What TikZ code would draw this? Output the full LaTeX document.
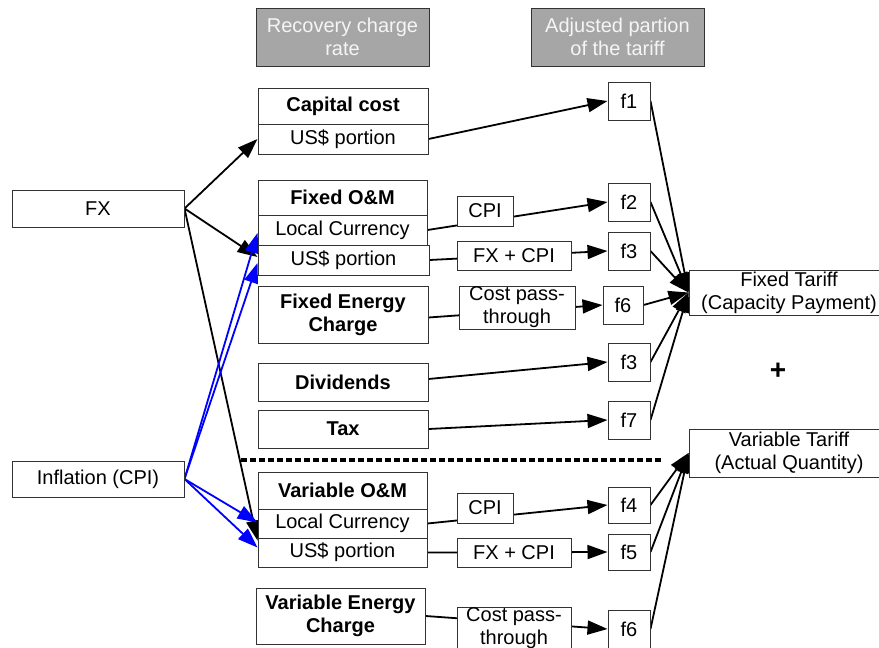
\documentclass[tikz,border=0pt]{standalone}
\usepackage{fontspec}
\setmainfont{Liberation Sans}
\usetikzlibrary{arrows.meta,backgrounds}
\begin{document}
\begin{tikzpicture}[x=1pt,y=-1pt,
  box/.style={draw=black!80, line width=1pt, fill=white, inner sep=0pt, align=center,
    font=\fontsize{20}{23}\selectfont, anchor=center},
  bbox/.style={box, font=\fontsize{20}{23}\selectfont\bfseries},
  hdr/.style={box, fill=black!35, text=black!4},
  conn/.style={line width=1.8pt, -{Triangle[length=20pt,width=14pt]}},
  bconn/.style={conn, draw=blue},
  sep/.style={line width=4.5pt, dash pattern=on 6pt off 3pt},
]
\useasboundingbox (0,0) rectangle (879,648);
\clip (0,0) rectangle (879,648);

% headers
\node[hdr, minimum width=173pt, minimum height=58pt] (h1) at (342.5,37) {Recovery charge\\rate};
\node[hdr, minimum width=173pt, minimum height=58pt] (h2) at (617.5,37) {Adjusted partion\\of the tariff};

% sources
\node[box, minimum width=172pt, minimum height=37pt] (fx) at (98,208.5) {FX};
\node[box, minimum width=172pt, minimum height=36pt] (infl) at (98,479) {Inflation (CPI)};

% recovery charge column
\node[bbox, minimum width=170pt, minimum height=36pt] (cap) at (343,106) {Capital cost};
\node[box, minimum width=170pt, minimum height=30pt] (capus) at (343,139) {US\$ portion};
\node[bbox, minimum width=169pt, minimum height=35pt] (fom) at (342.5,197.5) {Fixed O\&M};
\node[box, minimum width=169pt, minimum height=30pt] (fomlc) at (342.5,230) {Local Currency};
\node[box, minimum width=171pt, minimum height=30pt] (fomus) at (343.5,260) {US\$ portion};
\node[bbox, minimum width=170pt, minimum height=57pt] (fec) at (343,314.5) {Fixed Energy\\Charge};
\node[bbox, minimum width=170pt, minimum height=38pt] (div) at (343,382) {Dividends};
\node[bbox, minimum width=170pt, minimum height=38pt] (tax) at (343,429) {Tax};
\node[bbox, minimum width=169pt, minimum height=37pt] (vom) at (342.5,490.5) {Variable O\&M};
\node[box, minimum width=169pt, minimum height=29pt] (vomlc) at (342.5,523.5) {Local Currency};
\node[box, minimum width=169pt, minimum height=29pt] (vomus) at (342.5,552.5) {US\$ portion};
\node[bbox, minimum width=169pt, minimum height=56pt] (vec) at (340.5,616) {Variable Energy\\Charge};

% middle column
\node[box, minimum width=56pt, minimum height=30pt] (cpi1) at (485,211) {CPI};
\node[box, minimum width=114pt, minimum height=29pt] (fxcpi1) at (514,255.5) {FX + CPI};
\node[box, minimum width=116pt, minimum height=43pt] (cpt1) at (517,307.5) {Cost pass-\\through};
\node[box, minimum width=56pt, minimum height=30pt] (cpi2) at (485,508) {CPI};
\node[box, minimum width=114pt, minimum height=29pt] (fxcpi2) at (514,552.5) {FX + CPI};
\node[box, minimum width=114pt, minimum height=43pt] (cpt2) at (514,628.5) {Cost pass-\\through};

% f boxes
\node[box, minimum width=42pt, minimum height=38pt] (f1) at (629,101) {f1};
\node[box, minimum width=42pt, minimum height=38pt] (f2) at (629,202) {f2};
\node[box, minimum width=42pt, minimum height=38pt] (f3) at (629,251) {f3};
\node[box, minimum width=40pt, minimum height=38pt] (f6a) at (623,305) {f6};
\node[box, minimum width=42pt, minimum height=38pt] (f3b) at (629,362) {f3};
\node[box, minimum width=42pt, minimum height=38pt] (f7) at (629,420) {f7};
\node[box, minimum width=42pt, minimum height=36pt] (f4) at (629,505) {f4};
\node[box, minimum width=42pt, minimum height=36pt] (f5) at (629,552) {f5};
\node[box, minimum width=42pt, minimum height=38pt] (f6b) at (629,629) {f6};

% tariffs
\node[box, minimum width=200pt, minimum height=45pt] (ft) at (789,292.5) {Fixed Tariff\\(Capacity Payment)};
\node[box, minimum width=200pt, minimum height=48pt] (vt) at (789,453) {Variable Tariff\\(Actual Quantity)};
\node[font=\fontsize{28}{30}\selectfont\bfseries, inner sep=0pt] (plus) at (778,371) {+};

% separator
\coordinate (sepL) at (241,460);
\coordinate (sepR) at (662,460);
\draw[sep] (sepL) -- (sepR);

\begin{scope}[on background layer]
  % FX
  \draw[conn] (fx.east) -- (capus.west);
  \draw[conn] (fx.east) -- ([yshift=3pt]fomus.west);
  \draw[conn] (fx.east) -- ([yshift=-3pt]vomus.north west);
  % inflation
  \draw[bconn] (infl.east) -- ([yshift=-3pt]fomlc.west);
  \draw[bconn] (infl.east) -- ([yshift=-3pt]fomus.west);
  \draw[bconn] (infl.east) -- ([yshift=1pt]vomlc.west);
  \draw[bconn] (infl.east) -- ([yshift=5pt]vomus.west);
  % to f boxes
  \draw[conn] (capus.east) -- (f1.west);
  \draw[conn] (fomlc.east) -- (f2.west);
  \draw[conn] (fomus.east) -- (f3.west);
  \draw[conn] ([yshift=-3pt]fec.east) -- (f6a.west);
  \draw[conn] ([yshift=3pt]div.east) -- (f3b.west);
  \draw[conn] (tax.east) -- (f7.west);
  \draw[conn] (vomlc.east) -- (f4.west);
  \draw[conn] (vomus.east) -- (f5.west);
  \draw[conn] (vec.east) -- (f6b.west);
  % to tariffs
  \foreach \f in {f1,f2,f3,f6a,f3b,f7}
    \draw[conn] (\f.east) -- (ft.west);
  \foreach \f in {f4,f5,f6b}
    \draw[conn] (\f.east) -- (vt.west);
\end{scope}
\end{tikzpicture}
\end{document}
